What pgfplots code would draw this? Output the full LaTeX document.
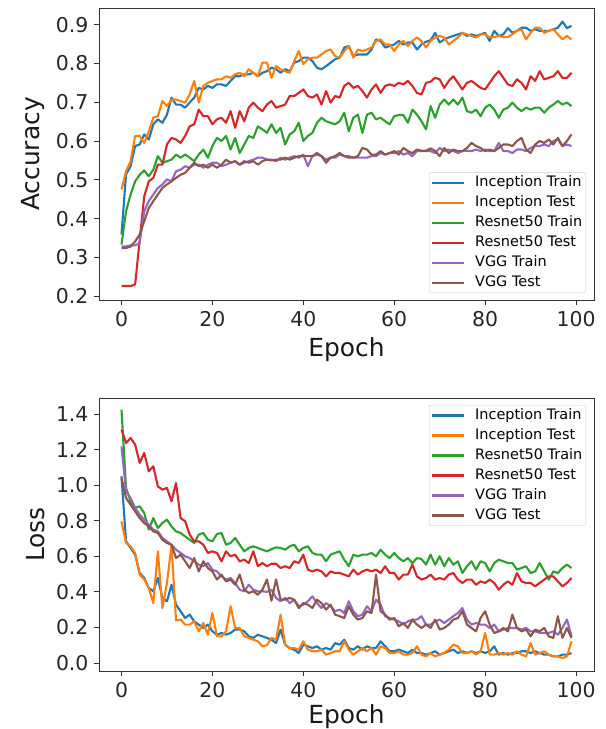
\documentclass[border=0pt]{standalone}
\usepackage{fontspec}
\setmainfont{DejaVu Sans}
\usepackage{pgfplots}
\usepackage{pgfplotstable}
\pgfplotsset{compat=1.18}

\definecolor{c0}{HTML}{1F77B4}
\definecolor{c1}{HTML}{FF7F0E}
\definecolor{c2}{HTML}{2CA02C}
\definecolor{c3}{HTML}{D62728}
\definecolor{c4}{HTML}{9467BD}
\definecolor{c5}{HTML}{8C564B}

% accuracy per epoch
\pgfplotstableread{
e it ite rt rte vt vte
0 0.359 0.475 0.333 0.226 0.328 0.324
1 0.514 0.522 0.419 0.226 0.328 0.324
2 0.535 0.548 0.462 0.226 0.331 0.328
3 0.587 0.613 0.496 0.230 0.331 0.341
4 0.591 0.613 0.513 0.345 0.337 0.359
5 0.617 0.595 0.524 0.457 0.419 0.393
6 0.604 0.625 0.509 0.496 0.445 0.427
7 0.643 0.660 0.526 0.505 0.462 0.445
8 0.656 0.664 0.561 0.539 0.479 0.462
9 0.647 0.703 0.544 0.539 0.488 0.479
10 0.668 0.690 0.548 0.591 0.501 0.488
11 0.712 0.707 0.552 0.608 0.496 0.496
12 0.694 0.707 0.565 0.604 0.522 0.505
13 0.694 0.703 0.557 0.595 0.526 0.513
14 0.686 0.699 0.565 0.613 0.535 0.518
15 0.699 0.720 0.557 0.638 0.531 0.531
16 0.712 0.755 0.548 0.643 0.539 0.544
17 0.737 0.699 0.565 0.681 0.539 0.535
18 0.733 0.742 0.578 0.664 0.531 0.539
19 0.742 0.750 0.557 0.664 0.539 0.531
20 0.737 0.755 0.587 0.643 0.544 0.539
21 0.746 0.759 0.608 0.656 0.544 0.531
22 0.746 0.759 0.600 0.660 0.535 0.539
23 0.742 0.767 0.613 0.647 0.539 0.552
24 0.755 0.763 0.578 0.677 0.544 0.544
25 0.767 0.772 0.608 0.634 0.548 0.548
26 0.767 0.776 0.569 0.677 0.539 0.539
27 0.772 0.767 0.591 0.651 0.544 0.548
28 0.772 0.785 0.613 0.686 0.548 0.544
29 0.776 0.776 0.608 0.699 0.552 0.548
30 0.767 0.767 0.638 0.686 0.557 0.539
31 0.776 0.802 0.630 0.677 0.557 0.548
32 0.780 0.802 0.621 0.694 0.552 0.552
33 0.789 0.763 0.643 0.703 0.552 0.550
34 0.785 0.793 0.621 0.686 0.548 0.552
35 0.776 0.785 0.634 0.690 0.557 0.552
36 0.785 0.780 0.591 0.694 0.552 0.557
37 0.780 0.776 0.617 0.716 0.557 0.552
38 0.802 0.806 0.625 0.716 0.561 0.557
39 0.806 0.832 0.647 0.724 0.557 0.561
40 0.815 0.798 0.600 0.733 0.565 0.561
41 0.815 0.811 0.613 0.716 0.535 0.561
42 0.806 0.815 0.621 0.712 0.561 0.561
43 0.789 0.815 0.647 0.720 0.565 0.569
44 0.785 0.823 0.660 0.694 0.561 0.561
45 0.793 0.832 0.651 0.729 0.552 0.544
46 0.802 0.836 0.647 0.699 0.557 0.557
47 0.811 0.819 0.643 0.716 0.557 0.561
48 0.815 0.815 0.651 0.712 0.565 0.569
49 0.841 0.832 0.673 0.742 0.561 0.561
50 0.845 0.845 0.625 0.750 0.561 0.557
51 0.819 0.815 0.660 0.737 0.557 0.557
52 0.823 0.836 0.668 0.742 0.557 0.561
53 0.823 0.832 0.621 0.729 0.557 0.582
54 0.823 0.836 0.668 0.712 0.557 0.578
55 0.836 0.841 0.673 0.733 0.561 0.565
56 0.862 0.858 0.656 0.746 0.561 0.565
57 0.858 0.862 0.660 0.724 0.569 0.574
58 0.841 0.849 0.651 0.742 0.565 0.565
59 0.845 0.849 0.643 0.746 0.569 0.569
60 0.849 0.832 0.664 0.742 0.569 0.574
61 0.858 0.849 0.667 0.750 0.574 0.565
62 0.849 0.858 0.667 0.746 0.565 0.582
63 0.854 0.845 0.647 0.755 0.569 0.574
64 0.854 0.858 0.681 0.742 0.561 0.569
65 0.836 0.867 0.668 0.724 0.574 0.578
66 0.849 0.858 0.651 0.720 0.574 0.575
67 0.856 0.841 0.630 0.750 0.574 0.575
68 0.860 0.858 0.690 0.753 0.574 0.581
69 0.879 0.867 0.660 0.763 0.569 0.574
70 0.854 0.871 0.694 0.759 0.582 0.561
71 0.862 0.867 0.707 0.737 0.574 0.582
72 0.867 0.849 0.694 0.755 0.578 0.569
73 0.871 0.858 0.707 0.767 0.574 0.578
74 0.875 0.867 0.694 0.750 0.569 0.574
75 0.879 0.879 0.712 0.733 0.574 0.574
76 0.871 0.875 0.677 0.750 0.575 0.582
77 0.875 0.871 0.673 0.755 0.574 0.595
78 0.871 0.867 0.681 0.746 0.578 0.587
79 0.875 0.875 0.664 0.737 0.574 0.582
80 0.879 0.875 0.686 0.733 0.578 0.574
81 0.858 0.867 0.694 0.750 0.574 0.578
82 0.884 0.868 0.681 0.767 0.574 0.574
83 0.871 0.871 0.660 0.780 0.595 0.582
84 0.875 0.868 0.681 0.763 0.574 0.591
85 0.891 0.868 0.686 0.746 0.574 0.591
86 0.879 0.875 0.699 0.742 0.569 0.587
87 0.884 0.884 0.686 0.759 0.578 0.600
88 0.892 0.888 0.677 0.750 0.578 0.608
89 0.892 0.862 0.686 0.733 0.574 0.578
90 0.884 0.879 0.681 0.767 0.582 0.569
91 0.888 0.892 0.686 0.755 0.587 0.591
92 0.884 0.892 0.686 0.780 0.587 0.600
93 0.884 0.879 0.673 0.759 0.591 0.595
94 0.884 0.884 0.686 0.763 0.587 0.604
95 0.888 0.888 0.694 0.767 0.600 0.591
96 0.892 0.875 0.703 0.780 0.604 0.608
97 0.908 0.862 0.694 0.763 0.587 0.587
98 0.891 0.871 0.699 0.763 0.591 0.600
99 0.897 0.862 0.690 0.776 0.587 0.617
}\acc

% loss per epoch
\pgfplotstableread{
e it ite rt rte vt vte
0 1.050 0.797 1.424 1.312 1.218 1.040
1 0.684 0.675 0.984 1.237 0.965 0.928
2 0.647 0.656 0.909 1.265 0.928 0.890
3 0.609 0.619 0.872 1.228 0.872 0.853
4 0.506 0.497 0.881 1.125 0.834 0.815
5 0.478 0.469 0.843 1.181 0.806 0.787
6 0.422 0.422 0.750 1.078 0.778 0.768
7 0.403 0.337 0.815 1.106 0.750 0.740
8 0.478 0.628 0.759 0.993 0.740 0.731
9 0.366 0.309 0.787 0.975 0.703 0.693
10 0.347 0.450 0.806 0.984 0.684 0.675
11 0.440 0.660 0.768 0.909 0.665 0.665
12 0.328 0.240 0.740 1.012 0.637 0.590
13 0.291 0.244 0.731 0.815 0.619 0.609
14 0.253 0.216 0.712 0.797 0.600 0.572
15 0.272 0.216 0.693 0.722 0.590 0.534
16 0.234 0.234 0.675 0.684 0.572 0.590
17 0.216 0.178 0.722 0.684 0.553 0.515
18 0.197 0.225 0.731 0.665 0.544 0.572
19 0.216 0.159 0.693 0.619 0.562 0.534
20 0.178 0.281 0.684 0.628 0.525 0.515
21 0.159 0.150 0.725 0.619 0.515 0.469
22 0.169 0.150 0.731 0.572 0.487 0.497
23 0.159 0.178 0.665 0.628 0.469 0.459
24 0.169 0.319 0.675 0.600 0.478 0.469
25 0.188 0.197 0.703 0.609 0.450 0.440
26 0.188 0.197 0.665 0.572 0.412 0.497
27 0.178 0.150 0.628 0.581 0.403 0.412
28 0.150 0.141 0.647 0.562 0.440 0.394
29 0.141 0.131 0.656 0.628 0.412 0.403
30 0.159 0.122 0.647 0.544 0.403 0.384
31 0.150 0.094 0.637 0.562 0.403 0.412
32 0.141 0.100 0.628 0.544 0.400 0.470
33 0.131 0.141 0.640 0.558 0.412 0.350
34 0.112 0.131 0.650 0.558 0.366 0.470
35 0.188 0.272 0.647 0.534 0.347 0.356
36 0.103 0.103 0.637 0.544 0.366 0.356
37 0.084 0.084 0.656 0.534 0.337 0.366
38 0.075 0.084 0.665 0.572 0.356 0.356
39 0.056 0.075 0.628 0.562 0.319 0.309
40 0.103 0.122 0.647 0.609 0.328 0.337
41 0.094 0.075 0.656 0.525 0.347 0.328
42 0.084 0.066 0.619 0.515 0.375 0.309
43 0.094 0.066 0.609 0.525 0.337 0.356
44 0.075 0.075 0.609 0.515 0.309 0.337
45 0.084 0.047 0.572 0.487 0.337 0.300
46 0.075 0.056 0.609 0.515 0.319 0.328
47 0.112 0.066 0.619 0.506 0.291 0.272
48 0.103 0.066 0.628 0.506 0.300 0.263
49 0.131 0.122 0.581 0.497 0.281 0.253
50 0.084 0.075 0.544 0.487 0.347 0.319
51 0.075 0.047 0.609 0.525 0.291 0.272
52 0.094 0.066 0.600 0.497 0.263 0.244
53 0.075 0.084 0.609 0.515 0.272 0.253
54 0.094 0.066 0.609 0.525 0.319 0.291
55 0.084 0.084 0.619 0.515 0.291 0.281
56 0.084 0.047 0.600 0.525 0.356 0.497
57 0.122 0.094 0.637 0.506 0.328 0.291
58 0.094 0.084 0.609 0.544 0.263 0.272
59 0.066 0.056 0.590 0.506 0.253 0.244
60 0.066 0.056 0.619 0.506 0.244 0.253
61 0.075 0.066 0.590 0.469 0.234 0.206
62 0.066 0.047 0.572 0.497 0.216 0.225
63 0.056 0.047 0.590 0.497 0.234 0.197
64 0.075 0.056 0.562 0.553 0.244 0.244
65 0.056 0.094 0.590 0.487 0.244 0.216
66 0.056 0.047 0.585 0.469 0.263 0.197
67 0.047 0.037 0.553 0.478 0.216 0.216
68 0.056 0.056 0.609 0.497 0.216 0.197
69 0.066 0.037 0.553 0.469 0.234 0.244
70 0.047 0.047 0.600 0.478 0.244 0.188
71 0.056 0.056 0.544 0.469 0.225 0.197
72 0.066 0.075 0.590 0.497 0.244 0.216
73 0.075 0.103 0.553 0.506 0.263 0.244
74 0.056 0.094 0.572 0.469 0.281 0.253
75 0.066 0.056 0.506 0.450 0.309 0.291
76 0.056 0.056 0.544 0.469 0.244 0.216
77 0.066 0.066 0.572 0.469 0.216 0.197
78 0.056 0.047 0.525 0.440 0.225 0.178
79 0.066 0.066 0.572 0.459 0.216 0.253
80 0.056 0.169 0.562 0.450 0.216 0.291
81 0.066 0.047 0.515 0.469 0.197 0.216
82 0.094 0.047 0.562 0.450 0.216 0.169
83 0.047 0.056 0.581 0.412 0.178 0.178
84 0.056 0.047 0.572 0.440 0.188 0.197
85 0.047 0.056 0.562 0.459 0.197 0.178
86 0.056 0.047 0.562 0.440 0.197 0.272
87 0.056 0.066 0.525 0.506 0.197 0.197
88 0.066 0.047 0.534 0.459 0.188 0.178
89 0.066 0.037 0.544 0.450 0.197 0.188
90 0.056 0.112 0.506 0.450 0.178 0.150
91 0.066 0.047 0.515 0.431 0.178 0.188
92 0.056 0.056 0.562 0.450 0.169 0.178
93 0.047 0.066 0.515 0.469 0.169 0.197
94 0.047 0.047 0.469 0.487 0.169 0.150
95 0.037 0.037 0.515 0.487 0.178 0.141
96 0.037 0.037 0.506 0.459 0.159 0.263
97 0.047 0.028 0.534 0.431 0.197 0.141
98 0.047 0.037 0.553 0.450 0.244 0.197
99 0.056 0.122 0.534 0.478 0.150 0.141
}\loss

\pgfplotsset{
  mpl/.style={
    scale only axis, width=495bp,
    xmin=-4.95, xmax=103.95,
    xtick={0,20,40,60,80,100},
    xlabel={Epoch},
    axis line style={black!80, line width=0.9bp},
    every tick/.style={black!80, line width=0.9bp},
    tick align=outside, major tick length=5bp,
    xtick pos=bottom, ytick pos=left,
    ticklabel style={font=\fontsize{20.5}{24}\selectfont, text=black!85},
    xticklabel style={yshift=-3bp},
    yticklabel style={xshift=-2bp},
    /pgf/number format/assume math mode=true,
    yticklabel style={/pgf/number format/.cd, fixed, fixed zerofill, precision=1},
    label style={font=\fontsize{25}{30}\selectfont, text=black!90},
    ylabel style={yshift=4bp},
    every axis plot/.append style={line width=2.1bp, line join=round},
    cycle list={{c0},{c1},{c2},{c3},{c4},{c5}},
    legend cell align=left,
    legend image code/.code={\draw[#1, line width=2.1bp] (0bp,0bp) -- (32bp,0bp); \path (40.5bp,0bp);},
    legend style={font=\fontsize{14.5}{16}\selectfont, draw=black!20, rounded corners=2bp,
      fill=white, fill opacity=0.8, text opacity=1, inner xsep=2bp, inner ysep=2bp,
      row sep=3.5bp, nodes={inner ysep=1.5bp, inner xsep=1.5bp, text height=10.5bp, text depth=3bp}},
  }
}

\begin{document}
\begin{tikzpicture}
\path[use as bounding box] (0,0) rectangle (606bp,-729bp);

\begin{axis}[mpl, at={(99bp,-8bp)}, anchor=north west, height=292bp,
  ymin=0.19, ymax=0.943, ytick={0.2,0.3,0.4,0.5,0.6,0.7,0.8,0.9},
  ylabel={Accuracy}, xlabel style={yshift=-4bp},
  legend style={at={(1,0)}, anchor=south east, xshift=-8bp, yshift=7bp}]
\addplot table[x=e,y=it]{\acc};
\addplot table[x=e,y=ite]{\acc};
\addplot table[x=e,y=rt]{\acc};
\addplot table[x=e,y=rte]{\acc};
\addplot table[x=e,y=vt]{\acc};
\addplot table[x=e,y=vte]{\acc};
\legend{Inception Train,Inception Test,Resnet50 Train,Resnet50 Test,VGG Train,VGG Test}
\end{axis}

\begin{axis}[mpl, at={(99bp,-398bp)}, anchor=north west, height=273bp,
  ymin=-0.045, ymax=1.49, ytick={0,0.2,0.4,0.6,0.8,1.0,1.2,1.4},
  ylabel={Loss}, xlabel style={yshift=0bp},
  legend style={at={(1,1)}, anchor=north east, xshift=-8bp, yshift=-7bp}]
\addplot table[x=e,y=it]{\loss};
\addplot table[x=e,y=ite]{\loss};
\addplot table[x=e,y=rt]{\loss};
\addplot table[x=e,y=rte]{\loss};
\addplot table[x=e,y=vt]{\loss};
\addplot table[x=e,y=vte]{\loss};
\legend{Inception Train,Inception Test,Resnet50 Train,Resnet50 Test,VGG Train,VGG Test}
\end{axis}
\end{tikzpicture}
\end{document}
